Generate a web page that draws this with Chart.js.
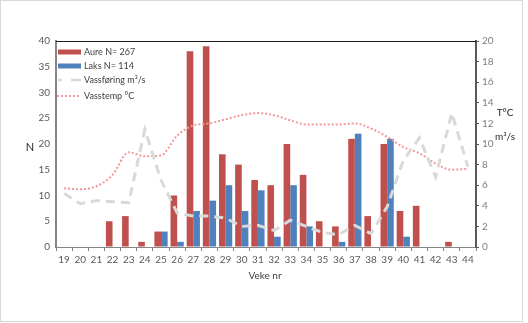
<!DOCTYPE html>
<html><head><meta charset="utf-8">
<script src="https://cdn.jsdelivr.net/npm/chart.js@4"></script>
<style>
html,body{margin:0;padding:0;background:#fff;}
#wrap{position:relative;width:528px;height:323px;}
#frame{position:absolute;left:0;top:0;width:521px;height:320px;border:1px solid #d9d9d9;}
canvas{position:absolute;left:0;top:0;}
</style></head>
<body><div id="wrap"><div id="frame"></div><canvas id="c" width="528" height="323"></canvas></div>
<script>
const weeks = ['19','20','21','22','23','24','25','26','27','28','29','30','31','32','33','34','35','36','37','38','39','40','41','42','43','44'];
const aure = [0,0,0,5,6,1,3,10,38,39,18,16,13,12,20,14,5,4,21,6,20,7,8,0,1,0];
const laks = [0,0,0,0,0,0,3,1,7,9,12,7,11,2,12,4,0,1,22,0,21,2,0,0,0,0];
const vassforing = [5.2,4.2,4.5,4.4,4.3,11.4,6.5,3.3,3.0,3.0,2.8,2.0,2.1,1.6,2.6,2.0,1.4,1.2,2.1,1.3,3.9,8.4,10.6,6.8,13.0,7.8];
const vasstemp = [5.7,5.6,5.9,7.0,9.2,8.8,8.9,10.8,11.8,12.0,12.4,12.8,13.0,12.8,12.3,11.9,11.9,11.9,12.0,11.5,10.7,9.7,9.1,8.1,7.5,7.6];
const labels = ['Aure N= 267','Laks N= 114','Vassføring m³/s','Vasstemp °C'];

const FONT = 'Lato';
const TXT = '#595959';

const extras = {
  id:'extras',
  afterDraw(chart){
    const ctx = chart.ctx, a = chart.chartArea;
    ctx.save();
    ctx.strokeStyle = '#1a1a1a'; ctx.lineWidth = 1;
    ctx.beginPath(); ctx.moveTo(a.left, a.top+0.5); ctx.lineTo(a.right, a.top+0.5); ctx.stroke();
    const ds = chart.data.datasets;
    const ys = [52,66,80,96];
    ctx.font = '9px '+FONT; ctx.textBaseline='middle'; ctx.textAlign='left';
    for (let i=0;i<4;i++){
      const y = ys[i], d = ds[i];
      if (i<2){ ctx.fillStyle = d.backgroundColor; ctx.fillRect(58,y-2.5,23,5); }
      else if (i===2){ ctx.strokeStyle=d.borderColor; ctx.lineWidth=2.5; ctx.setLineDash([]);
        ctx.beginPath(); ctx.moveTo(58,y); ctx.lineTo(62,y); ctx.moveTo(71,y); ctx.lineTo(81,y); ctx.stroke(); }
      else { ctx.strokeStyle=d.borderColor; ctx.lineWidth=2; ctx.setLineDash([2,2]);
        ctx.beginPath(); ctx.moveTo(57,y); ctx.lineTo(81,y); ctx.stroke(); ctx.setLineDash([]); }
      ctx.fillStyle = '#404040'; ctx.fillText(d.label, 84, y);
    }
    ctx.fillStyle = '#262626'; ctx.textAlign='center';
    ctx.font = '11px '+FONT; ctx.fillText('N', 30, 147);
    ctx.font = '10px '+FONT; ctx.fillText('T°C', 505, 113); ctx.fillText('m³/s', 505, 137);
    ctx.fillStyle='#404040'; ctx.fillText('Veke nr', 265, 276);
    ctx.restore();
  }
};

new Chart(document.getElementById('c'), {
  data: {
    labels: weeks,
    datasets: [
      {type:'bar', label:labels[0], data:aure, backgroundColor:'#C0504D', yAxisID:'y', order:3, categoryPercentage:0.82, barPercentage:1.0},
      {type:'bar', label:labels[1], data:laks, backgroundColor:'#4F81BD', yAxisID:'y', order:3, categoryPercentage:0.82, barPercentage:1.0},
      {type:'line', label:labels[2], data:vassforing, borderColor:'#D9D9D9', borderWidth:3, borderDash:[9,6], pointRadius:0, tension:0, yAxisID:'y2', order:1, fill:false},
      {type:'line', label:labels[3], data:vasstemp, borderColor:'#F4979A', borderWidth:2, borderDash:[2,2], pointRadius:0, cubicInterpolationMode:'monotone', yAxisID:'y2', order:2, fill:false}
    ]
  },
  options: {
    responsive:false, animation:false, devicePixelRatio:1,
    layout:{padding:{top:41,left:0,right:0,bottom:0}},
    plugins:{legend:{display:false}, tooltip:{enabled:false}},
    scales:{
      x:{type:'category', offset:true,
        grid:{display:true, drawOnChartArea:false, drawTicks:true, tickLength:4, color:'#868686', offset:true},
        border:{display:true, color:'#868686', width:1},
        ticks:{font:{family:FONT,size:10}, color:TXT, padding:3, maxRotation:0, autoSkip:false},
        afterFit(s){ s.height = 76; }
      },
      y:{position:'left', min:0, max:40,
        ticks:{stepSize:5, font:{family:FONT,size:10}, color:TXT, padding:6},
        grid:{display:true, drawOnChartArea:false, drawTicks:false, color:'#868686'},
        border:{display:true, color:'#868686', width:2},
        afterFit(s){ s.width = 56; }
      },
      y2:{position:'right', min:0, max:20,
        ticks:{stepSize:2, font:{family:FONT,size:10}, color:'#7f7f7f', padding:3},
        grid:{display:true, drawOnChartArea:false, drawTicks:true, tickLength:3, color:'#595959'},
        border:{display:true, color:'#595959', width:2},
        afterFit(s){ s.width = 52; }
      }
    }
  },
  plugins:[extras]
});
</script></body></html>
